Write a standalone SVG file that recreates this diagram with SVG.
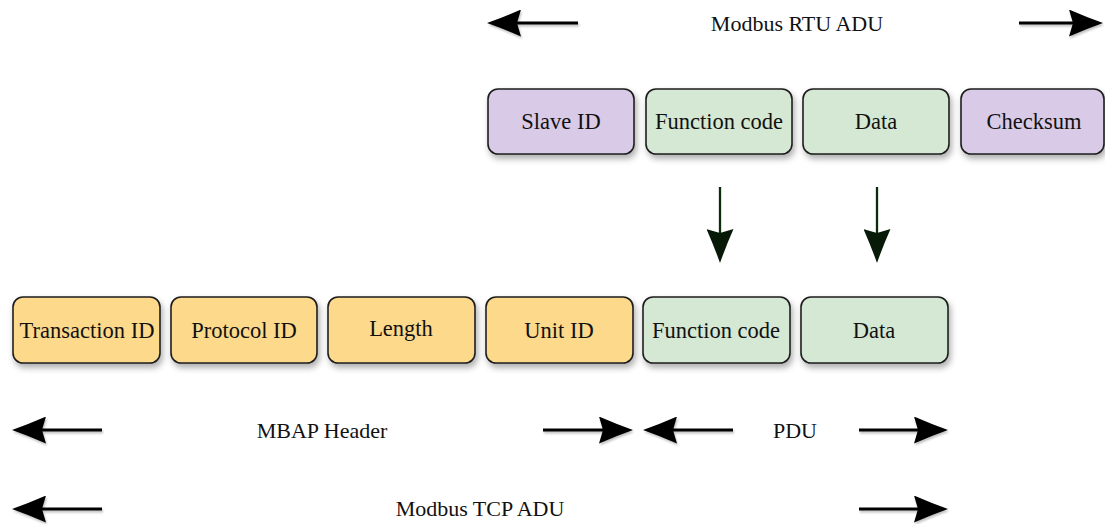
<svg xmlns="http://www.w3.org/2000/svg" width="1105" height="524" viewBox="0 0 1105 524">
  <style>
    .box { stroke: #1e1e1e; stroke-width: 1.6; filter: url(#shadow); }
    .purple { fill: #d9cbe7; }
    .green { fill: #d5e8d4; }
    .yellow { fill: #fdd98b; }
    text { font-family: "Liberation Serif", "Times New Roman", serif; fill: #111; text-anchor: middle; }
    .lbl { font-size: 22.5px; }
    .cap { font-size: 22px; }
    .span { stroke: #000; stroke-width: 2.8; fill: none; marker-end: url(#head); }
    .down { stroke: #0b2b0b; stroke-width: 2.3; fill: none; marker-end: url(#headGreen); }
  </style>
  <defs>
    <filter id="shadow" x="-20%" y="-20%" width="140%" height="160%">
      <feDropShadow dx="2" dy="4" stdDeviation="3" flood-color="#000" flood-opacity="0.32"/>
    </filter>
    <filter id="lineshadow" filterUnits="userSpaceOnUse" x="0" y="0" width="1105" height="524">
      <feDropShadow dx="1" dy="2" stdDeviation="1" flood-color="#000" flood-opacity="0.25"/>
    </filter>
    <!-- arrowhead: 34 long, 27 wide, shallow notch -->
    <marker id="head" markerUnits="userSpaceOnUse" viewBox="0 0 34 27" markerWidth="34" markerHeight="27" refX="10" refY="13.5" orient="auto">
      <path d="M0,0 Q17,7.5 34,13.5 Q17,19.5 0,27 L4,13.5 Z" fill="#000"/>
    </marker>
    <marker id="headGreen" markerUnits="userSpaceOnUse" viewBox="0 0 34 27" markerWidth="34" markerHeight="27" refX="10" refY="13.5" orient="auto">
      <path d="M0,0 Q17,7.5 34,13.5 Q17,19.5 0,27 L4,13.5 Z" fill="#071a07"/>
    </marker>
  </defs>

  <!-- Modbus RTU frame -->
  <g id="rtu-slave-id">
    <rect class="box purple" x="488" y="89" width="146" height="65" rx="10"/>
    <text class="lbl" x="561" y="129">Slave ID</text>
  </g>
  <g id="rtu-function-code">
    <rect class="box green" x="646" y="89" width="146" height="65" rx="10"/>
    <text class="lbl" x="719" y="129">Function code</text>
  </g>
  <g id="rtu-data">
    <rect class="box green" x="803" y="89" width="146" height="65" rx="10"/>
    <text class="lbl" x="876" y="129">Data</text>
  </g>
  <g id="rtu-checksum">
    <rect class="box purple" x="961" y="89" width="143" height="65" rx="10"/>
    <text class="lbl" x="1034" y="129">Checksum</text>
  </g>

  <!-- Modbus TCP frame -->
  <g id="tcp-transaction-id">
    <rect class="box yellow" x="13" y="297" width="147" height="66" rx="10"/>
    <text class="lbl" x="87" y="338">Transaction ID</text>
  </g>
  <g id="tcp-protocol-id">
    <rect class="box yellow" x="171" y="297" width="146" height="66" rx="10"/>
    <text class="lbl" x="244" y="338">Protocol ID</text>
  </g>
  <g id="tcp-length">
    <rect class="box yellow" x="328" y="297" width="147" height="66" rx="10"/>
    <text class="lbl" x="401" y="336">Length</text>
  </g>
  <g id="tcp-unit-id">
    <rect class="box yellow" x="486" y="297" width="147" height="66" rx="10"/>
    <text class="lbl" x="559" y="338">Unit ID</text>
  </g>
  <g id="tcp-function-code">
    <rect class="box green" x="643" y="297" width="147" height="66" rx="10"/>
    <text class="lbl" x="716" y="338">Function code</text>
  </g>
  <g id="tcp-data">
    <rect class="box green" x="801" y="297" width="147" height="66" rx="10"/>
    <text class="lbl" x="874" y="338">Data</text>
  </g>

  <!-- span labels -->
  <g id="labels">
    <text class="cap" x="797" y="31">Modbus RTU ADU</text>
    <text class="cap" x="322" y="438">MBAP Header</text>
    <text class="cap" x="795" y="438">PDU</text>
    <text class="cap" x="480" y="516">Modbus TCP ADU</text>
  </g>

  <!-- connectors -->
  <g id="connectors">
    <g filter="url(#lineshadow)">
      <line class="span" x1="578" y1="23" x2="511" y2="23"/>
      <line class="span" x1="1019" y1="23" x2="1079" y2="23"/>
      <line class="span" x1="102" y1="430" x2="36" y2="430"/>
      <line class="span" x1="543" y1="430" x2="609" y2="430"/>
      <line class="span" x1="733" y1="430" x2="667" y2="430"/>
      <line class="span" x1="859" y1="430" x2="924" y2="430"/>
      <line class="span" x1="102" y1="509" x2="36" y2="509"/>
      <line class="span" x1="859" y1="509" x2="924" y2="509"/>
    </g>
    <line class="down" x1="720" y1="187" x2="720" y2="239"/>
    <line class="down" x1="877" y1="187" x2="877" y2="239"/>
  </g>
</svg>
